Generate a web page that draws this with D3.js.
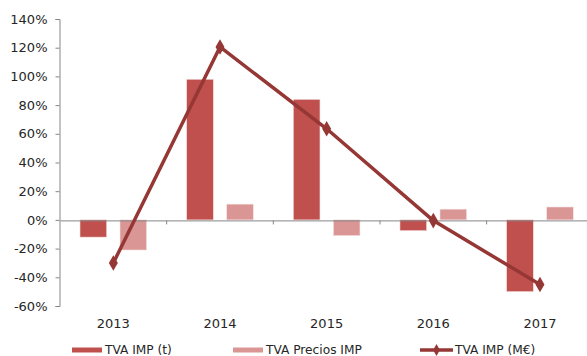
<!DOCTYPE html>
<html>
<head>
<meta charset="utf-8">
<script src="https://cdn.jsdelivr.net/npm/d3@7"></script>
<style>
  html, body { margin: 0; padding: 0; background: #fff; }
  svg { display: block; }
  text { font-family: "DejaVu Sans", Verdana, sans-serif; fill: #262626; }
</style>
</head>
<body>
<svg id="chart" width="587" height="356"></svg>
<script>
// Annual variation rates (TVA) of imports
const years = ["2013", "2014", "2015", "2016", "2017"];
const tvaImpT = [-0.12, 0.98, 0.84, -0.075, -0.50];      // TVA IMP (t)
const tvaPrecios = [-0.21, 0.11, -0.11, 0.075, 0.09];    // TVA Precios IMP
const tvaImpEur = [-0.30, 1.205, 0.635, -0.005, -0.45];  // TVA IMP (M€)
const yTicks = [-0.6, -0.4, -0.2, 0, 0.2, 0.4, 0.6, 0.8, 1.0, 1.2, 1.4];

const colDark = "#C0504D";
const colLight = "#D99694";
const colLine = "#953735";

const svg = d3.select("#chart");

const x = d3.scaleBand().domain(years).range([60, 593.3]);
const y = d3.scaleLinear().domain([-0.6, 1.4]).range([306, 19]);

const bandW = x.bandwidth();
const barW = bandW * 0.25;
const padL = bandW * 0.1875;
const gap = bandW * 0.125;

// Y axis
const yAxis = d3.axisLeft(y)
  .tickValues(yTicks)
  .tickFormat(d => Math.round(d * 100) + "%")
  .tickSizeOuter(0)
  .tickSize(4)
  .tickPadding(8);
const gy = svg.append("g").attr("transform", "translate(59.5,0)").call(yAxis);
gy.selectAll("path.domain").attr("stroke", "#868686");
gy.selectAll("line").attr("stroke", "#868686");
gy.selectAll("text").style("font-size", "13px").attr("fill", "#262626");

// Bars
const g = svg.append("g");
g.selectAll("rect.dark").data(years).join("rect")
  .attr("class", "dark")
  .attr("x", (d) => x(d) + padL)
  .attr("width", barW)
  .attr("y", (d, i) => y(Math.max(0, tvaImpT[i])))
  .attr("height", (d, i) => Math.abs(y(tvaImpT[i]) - y(0)))
  .attr("fill", colDark)
  .attr("stroke", "#f2dcdb").attr("stroke-width", 0.6);

g.selectAll("rect.light").data(years).join("rect")
  .attr("class", "light")
  .attr("x", (d) => x(d) + padL + barW + gap)
  .attr("width", barW)
  .attr("y", (d, i) => y(Math.max(0, tvaPrecios[i])))
  .attr("height", (d, i) => Math.abs(y(tvaPrecios[i]) - y(0)))
  .attr("fill", colLight)
  .attr("stroke", "#f7e6e6").attr("stroke-width", 0.6);

// X axis along zero
const xAxis = d3.axisBottom(x).tickSize(4).tickSizeOuter(0).tickFormat("");
const gx = svg.append("g").attr("transform", `translate(0,${y(0) + 0.5})`).call(xAxis);
gx.selectAll("path.domain").attr("stroke", "#868686");
gx.selectAll("line").attr("stroke", "#868686")
  .attr("transform", `translate(${-bandW / 2},0)`);
gx.selectAll("g.tick").filter((d, i) => i === 0).remove();

// Category labels at bottom
svg.append("g").selectAll("text").data(years).join("text")
  .attr("x", d => x(d) + bandW / 2)
  .attr("y", 328)
  .attr("text-anchor", "middle")
  .style("font-size", "13px")
  .text(d => d);

// Line
const lineGen = d3.line()
  .x((d, i) => x(years[i]) + bandW / 2)
  .y(d => y(d));
svg.append("path")
  .datum(tvaImpEur)
  .attr("d", lineGen)
  .attr("fill", "none")
  .attr("stroke", colLine)
  .attr("stroke-width", 3.5)
  .attr("stroke-linejoin", "round");

const diamond = d3.symbol().type(d3.symbolDiamond).size(70);
svg.append("g").selectAll("path").data(tvaImpEur).join("path")
  .attr("transform", (d, i) => `translate(${x(years[i]) + bandW / 2},${y(d)})`)
  .attr("d", diamond)
  .attr("fill", colLine);

// Legend
const leg = svg.append("g");
const legY = 350;
leg.append("rect").attr("x", 72).attr("y", legY - 2.5).attr("width", 30).attr("height", 5).attr("fill", colDark);
leg.append("text").attr("x", 105).attr("y", legY + 3.6).style("font-size", "12.2px").text("TVA IMP (t)");
leg.append("rect").attr("x", 233).attr("y", legY - 2.5).attr("width", 30).attr("height", 5).attr("fill", colLight);
leg.append("text").attr("x", 266).attr("y", legY + 3.6).style("font-size", "12.2px").text("TVA Precios IMP");
leg.append("line").attr("x1", 420).attr("x2", 453).attr("y1", legY).attr("y2", legY)
  .attr("stroke", colLine).attr("stroke-width", 3.5);
leg.append("path").attr("transform", `translate(436.5,${legY})`).attr("d", d3.symbol().type(d3.symbolDiamond).size(40)).attr("fill", colLine);
leg.append("text").attr("x", 455).attr("y", legY + 3.6).style("font-size", "12.2px").text("TVA IMP (M€)");
</script>
</body>
</html>
